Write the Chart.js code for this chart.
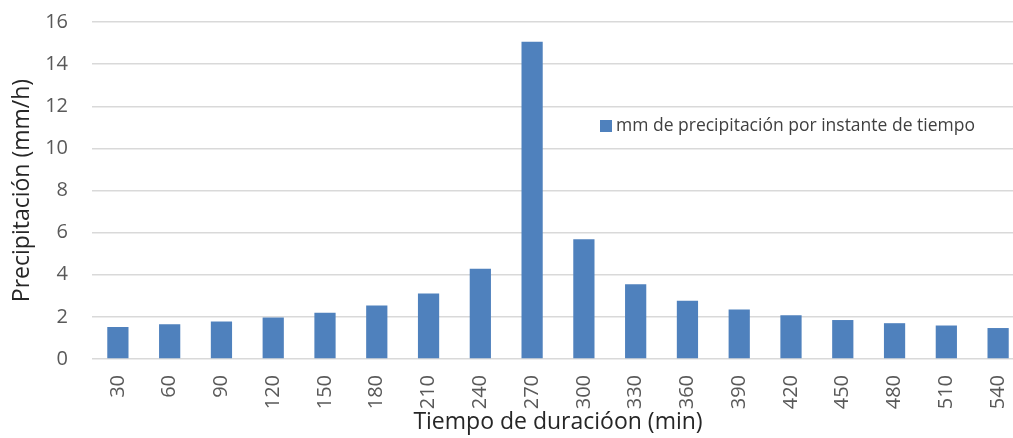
<!DOCTYPE html>
<html>
<head>
<meta charset="utf-8">
<script src="https://cdn.jsdelivr.net/npm/chart.js@4/dist/chart.umd.min.js"></script>
<style>
  html, body { margin: 0; padding: 0; background: #fff; overflow: hidden; }
  canvas { display: block; }
</style>
</head>
<body>
<canvas id="c" width="1025" height="438"></canvas>
<script>
// Duration steps (min) and rainfall intensity for each instant (mm/h)
const minutes = ['30','60','90','120','150','180','210','240','270','300','330','360','390','420','450','480','510','540'];
const precipitacion = [1.52, 1.65, 1.78, 1.97, 2.19, 2.54, 3.11, 4.28, 15.06, 5.69, 3.55, 2.77, 2.35, 2.08, 1.85, 1.70, 1.59, 1.47];
const serieNombre = 'mm de precipitación por instante de tiempo';
const ejeY = 'Precipitación (mm/h)';
const ejeX = 'Tiempo de duracióon (min)';

const FONT = '"Open Sans", sans-serif';

// Legend drawn inside the plot area, to the right of the peak
const innerLegend = {
  id: 'innerLegend',
  afterDraw(chart) {
    const ctx = chart.ctx;
    const ds = chart.data.datasets[0];
    const a = chart.chartArea;
    const x = a.left + 508;
    const y = a.top + 104;
    ctx.save();
    ctx.fillStyle = ds.backgroundColor;
    ctx.fillRect(x, y - 6, 12, 12);
    ctx.font = '17.5px ' + FONT;
    ctx.fillStyle = '#404040';
    ctx.textBaseline = 'middle';
    ctx.textAlign = 'left';
    ctx.fillText(ds.label, x + 16, y);
    ctx.restore();
  }
};

new Chart(document.getElementById('c'), {
  type: 'bar',
  data: {
    labels: minutes,
    datasets: [{
      label: serieNombre,
      data: precipitacion,
      backgroundColor: '#4F81BD',
      borderWidth: 0,
      barPercentage: 0.41,
      categoryPercentage: 1.0
    }]
  },
  options: {
    responsive: false,
    animation: false,
    layout: { padding: { top: 22, left: 0, right: 1, bottom: 2 } },
    plugins: {
      legend: { display: false },
      tooltip: { enabled: false }
    },
    scales: {
      x: {
        grid: { display: false, drawTicks: false },
        border: { display: false },
        ticks: {
          minRotation: 90, maxRotation: 90,
          padding: 16,
          color: '#595959',
          font: { family: FONT, size: 20 }
        },
        title: {
          display: true, text: ejeX, color: '#262626',
          font: { family: FONT, size: 23 },
          padding: { top: 0, bottom: 0 }
        },
        afterFit(scale) {
          scale.height = 77;
          scale.paddingLeft = 0;
          scale.paddingRight = 0;
        }
      },
      y: {
        min: 0, max: 16,
        ticks: {
          stepSize: 2,
          padding: 24,
          color: '#595959',
          font: { family: FONT, size: 20 }
        },
        grid: { color: '#d9d9d9', lineWidth: 1.5, drawTicks: false },
        border: { display: false },
        title: {
          display: true, text: ejeY, color: '#262626',
          font: { family: FONT, size: 23 },
          padding: { top: 9, bottom: 0 }
        },
        afterFit(scale) {
          scale.width = 92;
          scale.paddingTop = 0;
          scale.paddingBottom = 0;
        }
      }
    }
  },
  plugins: [innerLegend]
});
</script>
</body>
</html>
